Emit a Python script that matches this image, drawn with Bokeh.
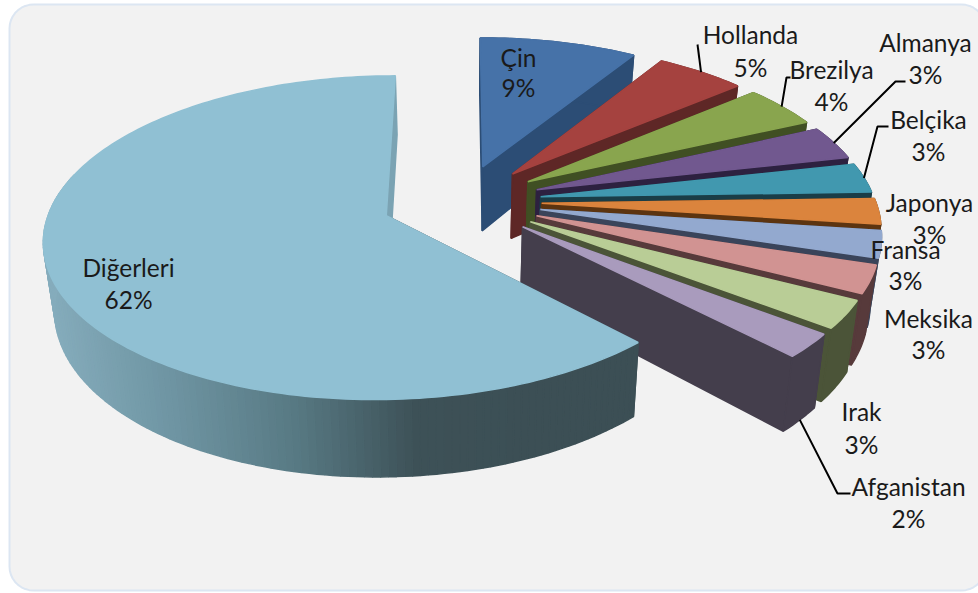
import math
from bokeh.plotting import figure
from bokeh.models import Range1d
from bokeh.core.properties import value
from bokeh.embed import file_html
from bokeh.resources import INLINE

# ---- data ----
categories = ["Çin", "Hollanda", "Brezilya", "Almanya", "Belçika", "Japonya",
              "Fransa", "Meksika", "Irak", "Afganistan", "Diğerleri"]
shares = [8.8, 5.0, 4.3, 3.4, 3.0, 2.6, 2.7, 2.8, 2.8, 2.4, 62.2]
percent_labels = ["9%", "5%", "4%", "3%", "3%", "3%", "3%", "3%", "3%", "2%", "62%"]
top_colors = ["#4672a8", "#a5423f", "#89a54e", "#71588f", "#4198af", "#db843d",
              "#93a9cf", "#d19392", "#b9cd96", "#a99bbd", "#90c0d3"]
wall_colors = ["#2c4d75", "#5e2726", "#404f23", "#2d2140", "#1a3d47", "#5c3410",
               "#3a445a", "#573a3b", "#4b5438", "#443e4c", "#7fa8b8"]

# label centres (x, y of the name line; y of the percent line)
label_x = [518, 750, 831, 925, 928, 929, 905, 928, 861, 908, 128]
label_y1 = [57, 34, 69, 42, 119, 202, 249, 318, 411, 486, 267]
label_y2 = [87, 67, 101, 74, 151, 234, 280, 349, 444, 518, 299]

# leader lines: category -> elbow points towards its label
leaders = {"Hollanda": [(697, 44)],
           "Brezilya": [(786, 77), (790, 77)],
           "Almanya": [(895, 81), (905, 81)],
           "Belçika": [(877, 126), (888, 126)],
           "Afganistan": [(837, 493), (850, 493)]}

# ---- projection of the tilted, exploded pie ----
CX, CY, A, B, K, H, S, EXPLODE = 461, 201, 334, 155, 0.135, 66, 0.027, 0.24


def project(u, v, z=0.0):
    w = 1 - K * v
    return (CX + A * u / w * (1 - S * z), CY + B * v / w + H * z / w)


def rim(off, theta, r=1.0):
    return (off[0] + r * math.sin(theta), off[1] - r * math.cos(theta))


xs, ys, fills = [], [], []


def add(points, color):
    xs.append([pt[0] for pt in points])
    ys.append([pt[1] for pt in points])
    fills.append(color)


def mix(c1, c2, t):
    a = [int(c1[i:i + 2], 16) for i in (1, 3, 5)]
    b = [int(c2[i:i + 2], 16) for i in (1, 3, 5)]
    return "#%02x%02x%02x" % tuple(round(p + (q - p) * t) for p, q in zip(a, b))


gradient = ["#86adbd", "#6f95a3", "#587a84", "#3d5157", "#3c4f55"]


def wall_gradient(sx):
    t = min(max((sx - 40) / 500, 0), 0.999) * (len(gradient) - 1)
    i = int(t)
    return mix(gradient[i], gradient[i + 1], t - i)


total = sum(shares)
mids = {}
cum = 0.0
for name, share, top, wall in zip(categories, shares, top_colors, wall_colors):
    t0 = cum / total * 2 * math.pi
    cum += share
    t1 = cum / total * 2 * math.pi
    mid = (t0 + t1) / 2
    mids[name] = mid
    off = (EXPLODE * math.sin(mid), -EXPLODE * math.cos(mid))
    n = max(6, int(share * 3))
    thetas = [t0 + (t1 - t0) * i / n for i in range(n + 1)]
    rim_uv = [rim(off, t) for t in thetas]
    top_rim = [project(u, v) for u, v in rim_uv]
    bot_rim = [project(u, v, 1) for u, v in rim_uv]
    apex_t, apex_b = project(*off), project(off[0], off[1], 1)
    main = name == categories[-1]
    # radial walls
    add([apex_t, top_rim[0], bot_rim[0], apex_b], "#3c4f55" if main else wall)
    add([apex_t, top_rim[-1], bot_rim[-1], apex_b], "#7ba3b3" if main else wall)
    # outer wall (the part of the big slice facing away is never seen)
    if main:
        for i in range(n):
            if thetas[i] < math.radians(285):
                add([top_rim[i], top_rim[i + 1], bot_rim[i + 1], bot_rim[i]],
                    wall_gradient((top_rim[i][0] + top_rim[i + 1][0]) / 2))
    else:
        add(top_rim + bot_rim[::-1], wall)
    # top surface
    add([apex_t] + top_rim, top)

# ---- figure: one data unit is one screen pixel ----
p = figure(width=978, height=593, output_backend="svg", toolbar_location=None,
           x_range=Range1d(0, 978), y_range=Range1d(593, 0),
           min_border=0, outline_line_color=None, background_fill_color="white",
           border_fill_color="white")
p.axis.visible = False
p.grid.visible = False

# rounded panel
L, T, R_, Bm, rad = 9, 4, 985, 590, 24
panel_x, panel_y = [], []
for cx_, cy_, a0 in [(L + rad, T + rad, 180), (R_ - rad, T + rad, 270),
                     (R_ - rad, Bm - rad, 0), (L + rad, Bm - rad, 90)]:
    for d in range(0, 91, 10):
        ang = math.radians(a0 + d)
        panel_x.append(cx_ + rad * math.cos(ang))
        panel_y.append(cy_ + rad * math.sin(ang))
p.patch(panel_x, panel_y, fill_color="#f2f2f2", line_color="#dce6f2", line_width=2)

p.patches(xs, ys, fill_color=fills, line_color=fills, line_width=1.5)

# leader lines
for name, elbow in leaders.items():
    mid = mids[name]
    off = (EXPLODE * math.sin(mid), -EXPLODE * math.cos(mid))
    depth = 1 if name == "Afganistan" else 0
    start = project(*rim(off, mid), depth)
    p.line([start[0]] + [e[0] for e in elbow], [start[1]] + [e[1] for e in elbow],
           line_color="black", line_width=2)

# labels
font = dict(text_font=value("Lato"), text_font_size="24.5px", text_color="#1a1a1a",
            text_align="center", text_baseline="middle")
p.text(label_x, label_y1, text=categories, **font)
p.text(label_x, label_y2, text=percent_labels, **font)

open("out.html", "w").write(file_html(p, INLINE))
